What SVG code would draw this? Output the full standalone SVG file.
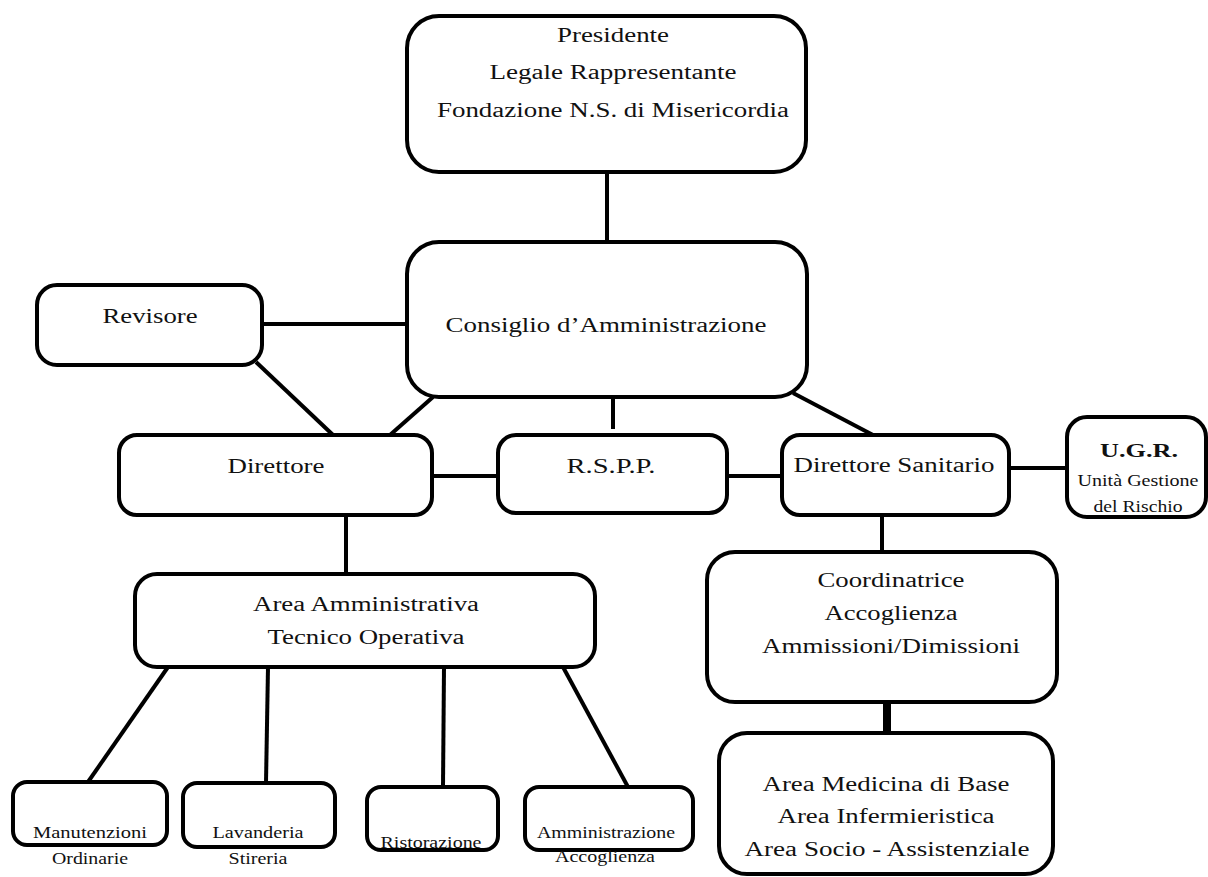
<svg xmlns="http://www.w3.org/2000/svg" width="1208" height="877" viewBox="0 0 1208 877">
<style>
.box{fill:#fff;stroke:#000;stroke-width:4}
.ln{stroke:#000;stroke-width:4;fill:none}
text{font-family:"Liberation Serif","Times New Roman",serif;fill:#111;text-anchor:middle}
.t{font-size:20px}
.s{font-size:16px}
.u{font-size:17px}
</style>
<rect width="1208" height="877" fill="#fff"/>
<g id="connectors">
<line class="ln" x1="607" y1="172" x2="607" y2="242"/>
<line class="ln" x1="262" y1="324" x2="407" y2="324"/>
<line class="ln" x1="256" y1="362" x2="333" y2="435"/>
<line class="ln" x1="433" y1="397" x2="390" y2="435"/>
<line class="ln" x1="613" y1="397" x2="613" y2="429"/>
<line class="ln" x1="793" y1="393" x2="873" y2="435"/>
<line class="ln" x1="432" y1="476" x2="498" y2="476"/>
<line class="ln" x1="727" y1="476" x2="782" y2="476"/>
<line class="ln" x1="1009" y1="468" x2="1067" y2="468"/>
<line class="ln" x1="346" y1="515" x2="346" y2="574"/>
<line class="ln" x1="882" y1="515" x2="882" y2="552"/>
<line class="ln" x1="168" y1="667" x2="88" y2="782"/>
<line class="ln" x1="268" y1="667" x2="266" y2="783"/>
<line class="ln" x1="444" y1="667" x2="443" y2="787"/>
<line class="ln" x1="563" y1="667" x2="628" y2="787"/>
<line stroke="#000" stroke-width="8" x1="887" y1="702" x2="887" y2="733"/>
</g>
<g id="presidente">
<rect class="box" x="407" y="16" width="399" height="156" rx="32"/>
<text class="t" x="613" y="42" textLength="112" lengthAdjust="spacingAndGlyphs">Presidente</text>
<text class="t" x="613" y="79" textLength="247" lengthAdjust="spacingAndGlyphs">Legale Rappresentante</text>
<text class="t" x="613" y="117" textLength="352" lengthAdjust="spacingAndGlyphs">Fondazione N.S. di Misericordia</text>
</g>
<g id="consiglio">
<rect class="box" x="407" y="242" width="400" height="155" rx="32"/>
<text class="t" x="606" y="332" textLength="321" lengthAdjust="spacingAndGlyphs">Consiglio d’Amministrazione</text>
</g>
<g id="revisore">
<rect class="box" x="37" y="285" width="225" height="80" rx="20"/>
<text class="t" x="150" y="323" textLength="95" lengthAdjust="spacingAndGlyphs">Revisore</text>
</g>
<g id="direttore">
<rect class="box" x="119" y="435" width="313" height="80" rx="18"/>
<text class="t" x="276" y="473" textLength="97" lengthAdjust="spacingAndGlyphs">Direttore</text>
</g>
<g id="rspp">
<rect class="box" x="498" y="435" width="229" height="78" rx="18"/>
<text class="t" x="611" y="473" textLength="89" lengthAdjust="spacingAndGlyphs">R.S.P.P.</text>
</g>
<g id="direttore-sanitario">
<rect class="box" x="782" y="435" width="227" height="80" rx="18"/>
<text class="t" x="894" y="472" textLength="201" lengthAdjust="spacingAndGlyphs">Direttore Sanitario</text>
</g>
<g id="ugr">
<rect class="box" x="1067" y="417" width="139" height="100" rx="20"/>
<text x="1139" y="457" font-size="19" font-weight="bold" textLength="78" lengthAdjust="spacingAndGlyphs">U.G.R.</text>
<text class="u" x="1138" y="486" textLength="121" lengthAdjust="spacingAndGlyphs">Unità Gestione</text>
<text class="u" x="1138" y="512" textLength="89" lengthAdjust="spacingAndGlyphs">del Rischio</text>
</g>
<g id="area-amministrativa">
<rect class="box" x="135" y="574" width="460" height="93" rx="22"/>
<text class="t" x="366" y="611" textLength="226" lengthAdjust="spacingAndGlyphs">Area Amministrativa</text>
<text class="t" x="366" y="644" textLength="197" lengthAdjust="spacingAndGlyphs">Tecnico Operativa</text>
</g>
<g id="coordinatrice">
<rect class="box" x="707" y="552" width="350" height="150" rx="28"/>
<text class="t" x="891" y="587" textLength="147" lengthAdjust="spacingAndGlyphs">Coordinatrice</text>
<text class="t" x="891" y="620" textLength="133" lengthAdjust="spacingAndGlyphs">Accoglienza</text>
<text class="t" x="891" y="653" textLength="258" lengthAdjust="spacingAndGlyphs">Ammissioni/Dimissioni</text>
</g>
<g id="aree-sanitarie">
<rect class="box" x="719" y="733" width="334" height="141" rx="28"/>
<text class="t" x="886" y="791" textLength="247" lengthAdjust="spacingAndGlyphs">Area Medicina di Base</text>
<text class="t" x="886" y="823" textLength="217" lengthAdjust="spacingAndGlyphs">Area Infermieristica</text>
<text class="t" x="887" y="856" textLength="285" lengthAdjust="spacingAndGlyphs">Area Socio - Assistenziale</text>
</g>
<g id="manutenzioni">
<rect class="box" x="13" y="782" width="154" height="63" rx="14"/>
<text class="s" x="90" y="838" textLength="114" lengthAdjust="spacingAndGlyphs">Manutenzioni</text>
<text class="s" x="90" y="864" textLength="76" lengthAdjust="spacingAndGlyphs">Ordinarie</text>
</g>
<g id="lavanderia">
<rect class="box" x="183" y="783" width="152" height="64" rx="14"/>
<text class="s" x="258" y="838" textLength="91" lengthAdjust="spacingAndGlyphs">Lavanderia</text>
<text class="s" x="258" y="864" textLength="59" lengthAdjust="spacingAndGlyphs">Stireria</text>
</g>
<g id="ristorazione">
<rect class="box" x="367" y="787" width="131" height="63" rx="14"/>
<text class="s" x="431" y="848" textLength="101" lengthAdjust="spacingAndGlyphs">Ristorazione</text>
</g>
<g id="amministrazione">
<rect class="box" x="525" y="787" width="168" height="63" rx="14"/>
<text class="s" x="606" y="838" textLength="138" lengthAdjust="spacingAndGlyphs">Amministrazione</text>
<text class="s" x="605" y="862" textLength="100" lengthAdjust="spacingAndGlyphs">Accoglienza</text>
</g>
</svg>
